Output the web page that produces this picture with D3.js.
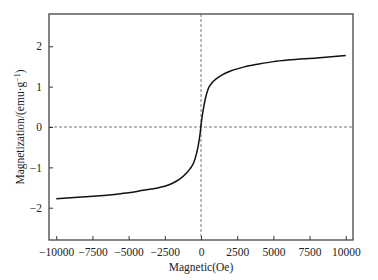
<!DOCTYPE html>
<html>
<head>
<meta charset="utf-8">
<script src="https://cdn.jsdelivr.net/npm/d3@7"></script>
<style>
  body { margin: 0; background: #fff; }
  text { font-family: "Liberation Serif", "Times New Roman", serif; fill: #222; }
</style>
</head>
<body>
<div id="chart"></div>
<script>
// hysteresis loop
const field = [-10000, -8000, -6000, -5000, -4000, -3000, -2500, -2000, -1500, -1000, -750, -500, -300, -200, -100, -50,
    0, 50, 100, 200, 300, 500, 750, 1000, 1500, 2000, 2500, 3000, 4000, 5000, 6000, 8000, 10000];
const magnet = [-1.78, -1.73, -1.67, -1.63, -1.57, -1.51, -1.47, -1.40, -1.30, -1.14, -1.03, -0.88, -0.64, -0.48, -0.26, -0.13,
    0.04, 0.18, 0.31, 0.52, 0.70, 0.95, 1.09, 1.18, 1.30, 1.38, 1.44, 1.49, 1.56, 1.62, 1.66, 1.71, 1.77];
const xTicks = [-10000, -7500, -5000, -2500, 0, 2500, 5000, 7500, 10000];
const yTicks = [-2, -1, 0, 1, 2];

const width = 378, height = 280;
const margin = {top: 14, right: 25, bottom: 40, left: 49};

const svg = d3.select("#chart").append("svg")
    .attr("width", width)
    .attr("height", height);

const x = d3.scaleLinear()
    .domain([-10500, 10500])
    .range([margin.left, width - margin.right]);

const y = d3.scaleLinear()
    .domain([-2.8, 2.8])
    .range([height - margin.bottom, margin.top]);

// dashed zero lines
svg.append("line")
    .attr("x1", x(-10500)).attr("x2", x(10500))
    .attr("y1", y(0)).attr("y2", y(0))
    .attr("stroke", "#555").attr("stroke-width", 0.8)
    .attr("stroke-dasharray", "3,2");
svg.append("line")
    .attr("x1", x(0)).attr("x2", x(0))
    .attr("y1", y(2.8)).attr("y2", y(-2.8))
    .attr("stroke", "#555").attr("stroke-width", 0.8)
    .attr("stroke-dasharray", "3,2");

// axes, ticks pointing inward
const xAxis = d3.axisBottom(x).tickValues(xTicks).tickFormat(d3.format("d"))
    .tickSizeInner(-4).tickSizeOuter(0).tickPadding(8);
const yAxis = d3.axisLeft(y).tickValues(yTicks).tickFormat(d3.format("d"))
    .tickSizeInner(-4).tickSizeOuter(0).tickPadding(7);

const gx = svg.append("g")
    .attr("transform", `translate(0,${height - margin.bottom})`)
    .call(xAxis);
const gy = svg.append("g")
    .attr("transform", `translate(${margin.left},0)`)
    .call(yAxis);

[gx, gy].forEach(g => {
    g.attr("font-family", '"Liberation Serif", serif').attr("font-size", 11.5);
    g.select(".domain").remove();
    g.selectAll(".tick line").attr("stroke", "#333");
    g.selectAll(".tick text").attr("fill", "#222");
});

// frame
svg.append("rect")
    .attr("x", margin.left).attr("y", margin.top)
    .attr("width", width - margin.left - margin.right)
    .attr("height", height - margin.top - margin.bottom)
    .attr("fill", "none")
    .attr("stroke", "#444")
    .attr("stroke-width", 1.3);

// curve
const line = d3.line()
    .x((d, i) => x(field[i]))
    .y(d => y(d))
    .curve(d3.curveMonotoneX);

svg.append("path")
    .datum(magnet)
    .attr("d", line)
    .attr("fill", "none")
    .attr("stroke", "#111")
    .attr("stroke-width", 1.5);

// axis titles
svg.append("text")
    .attr("x", (margin.left + width - margin.right) / 2)
    .attr("y", 271)
    .attr("text-anchor", "middle")
    .style("font-size", "11.5px")
    .text("Magnetic(Oe)");

const yl = svg.append("text")
    .attr("transform", `translate(24,${y(0)}) rotate(-90)`)
    .attr("text-anchor", "middle")
    .style("font-size", "11.5px");
yl.append("tspan").text("Magnetization/(emu·g");
yl.append("tspan").attr("dy", -4).style("font-size", "8px").text("−1");
yl.append("tspan").attr("dy", 4).text(")");
</script>
</body>
</html>
